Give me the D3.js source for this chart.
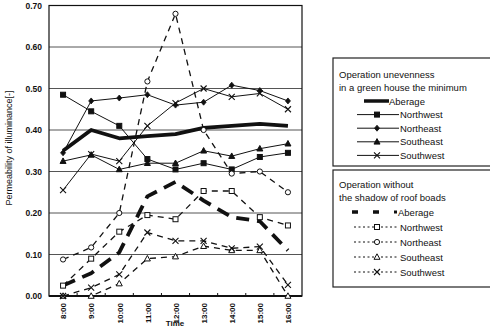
<!DOCTYPE html>
<html>
<head>
<meta charset="utf-8">
<script src="https://cdn.jsdelivr.net/npm/d3@7"></script>
<style>
  body { margin: 0; background: #fff; }
  text { font-family: "Liberation Sans", "DejaVu Sans", sans-serif; fill: #111; }
</style>
</head>
<body>
<div id="chartHolder"></div>
<script>
const times = ["8:00", "9:00", "10:00", "11:00", "12:00", "13:00", "14:00", "15:00", "16:00"];
const yTicks = [0, 0.1, 0.2, 0.3, 0.4, 0.5, 0.6, 0.7];

// operation unevenness in a green house the minimum (solid)
const minAverage   = [0.35, 0.40, 0.38, 0.385, 0.39, 0.405, 0.41, 0.415, 0.41];
const minNorthwest = [0.485, 0.445, 0.41, 0.33, 0.305, 0.32, 0.305, 0.335, 0.345];
const minNortheast = [0.345, 0.47, 0.477, 0.485, 0.46, 0.467, 0.508, 0.495, 0.47];
const minSoutheast = [0.325, 0.34, 0.305, 0.32, 0.32, 0.35, 0.337, 0.355, 0.367];
const minSouthwest = [0.255, 0.342, 0.325, 0.41, 0.465, 0.50, 0.48, 0.488, 0.45];

// operation without the shadow of roof boads (dashed)
const noAverage   = [0.025, 0.055, 0.105, 0.24, 0.275, 0.23, 0.19, 0.18, 0.11];
const noNorthwest = [0.025, 0.09, 0.155, 0.195, 0.185, 0.253, 0.253, 0.19, 0.17];
const noNortheast = [0.088, 0.117, 0.20, 0.517, 0.68, 0.40, 0.295, 0.30, 0.25];
const noSoutheast = [0.0, 0.0, 0.03, 0.09, 0.095, 0.12, 0.11, 0.11, 0.0];
const noSouthwest = [0.0, 0.02, 0.052, 0.153, 0.133, 0.133, 0.115, 0.119, 0.027];

const width = 490, height = 327;
const pLeft = 49, pRight = 302, pTop = 5.5, pBottom = 296;

const svg = d3.select("#chartHolder").append("svg")
  .attr("width", width).attr("height", height);

const xScale = d3.scalePoint().domain(times).range([pLeft, pRight]).padding(0.5);
const yScale = d3.scaleLinear().domain([0, 0.7]).range([pBottom, pTop]);

// grid
svg.append("g").selectAll("line").data(yTicks.slice(1, -1)).enter().append("line")
  .attr("x1", pLeft).attr("x2", pRight)
  .attr("y1", d => yScale(d)).attr("y2", d => yScale(d))
  .attr("stroke", "#555").attr("stroke-width", 1);

// y axis labels
const yAxis = d3.axisLeft(yScale).tickValues(yTicks).tickFormat(d3.format(".2f")).tickSize(0).tickPadding(7);
svg.append("g").attr("transform", `translate(${pLeft},0)`).call(yAxis)
  .call(g => g.select(".domain").remove())
  .selectAll("text").style("font-size", "8.5px").style("font-weight", "bold").attr("fill", "#222");

// x axis
const step = xScale.step();
const xAxis = d3.axisBottom(xScale).tickSize(0);
svg.append("g").attr("transform", `translate(0,${pBottom})`).call(xAxis)
  .call(g => g.select(".domain").remove())
  .selectAll("text")
  .style("font-size", "8px").style("font-weight", "bold").attr("fill", "#222")
  .attr("text-anchor", "end").attr("dy", "0.35em")
  .attr("transform", "translate(0,7) rotate(-90)").attr("x", 0).attr("y", 0);

// small inner ticks at band boundaries
svg.append("g").selectAll("line").data(d3.range(1, times.length)).enter().append("line")
  .attr("x1", i => pLeft + i * step).attr("x2", i => pLeft + i * step)
  .attr("y1", pBottom).attr("y2", pBottom - 3)
  .attr("stroke", "#111");

// frame
svg.append("rect").attr("x", pLeft).attr("y", pTop).attr("width", pRight - pLeft).attr("height", pBottom - pTop)
  .attr("fill", "none").attr("stroke", "#111").attr("stroke-width", 1.2);
svg.append("line").attr("x1", pLeft).attr("x2", pRight).attr("y1", pBottom).attr("y2", pBottom)
  .attr("stroke", "#111").attr("stroke-width", 2);

svg.append("text").attr("transform", "translate(12,148) rotate(-90)")
  .attr("text-anchor", "middle").style("font-size", "9px").text("Permeability of illuminance[-]");
svg.append("text").attr("x", 175).attr("y", 326).attr("text-anchor", "middle")
  .style("font-size", "8px").style("font-weight", "bold").text("Time");

// markers
function drawMarker(g, type, x, y, open) {
  const fill = open ? "#fff" : "#111";
  if (type === "square") {
    g.append("rect").attr("x", x - 2.5).attr("y", y - 2.5).attr("width", 5).attr("height", 5)
      .attr("fill", fill).attr("stroke", "#111").attr("stroke-width", 1);
  } else if (type === "diamond") {
    if (open) {
      g.append("circle").attr("cx", x).attr("cy", y).attr("r", 2.6)
        .attr("fill", fill).attr("stroke", "#111").attr("stroke-width", 1);
    } else {
      g.append("path").attr("d", `M${x},${y - 3}L${x + 2.5},${y}L${x},${y + 3}L${x - 2.5},${y}Z`)
        .attr("fill", fill).attr("stroke", "#111").attr("stroke-width", 0.8);
    }
  } else if (type === "triangle") {
    g.append("path").attr("d", `M${x},${y - 3.2}L${x + 3},${y + 2.3}L${x - 3},${y + 2.3}Z`)
      .attr("fill", fill).attr("stroke", "#111").attr("stroke-width", 1);
  } else if (type === "x") {
    g.append("path").attr("d", `M${x - 3},${y - 3}L${x + 3},${y + 3}M${x + 3},${y - 3}L${x - 3},${y + 3}`)
      .attr("stroke", "#111").attr("stroke-width", 1.1);
  }
}

const series = [
  { values: minNorthwest, marker: "square", dash: null, w: 1, open: false },
  { values: minNortheast, marker: "diamond", dash: null, w: 1, open: false },
  { values: minSoutheast, marker: "triangle", dash: null, w: 1, open: false },
  { values: minSouthwest, marker: "x", dash: null, w: 1, open: false },
  { values: minAverage, marker: null, dash: null, w: 3.8, open: false },
  { values: noNorthwest, marker: "square", dash: "6,5", w: 1.3, open: true },
  { values: noNortheast, marker: "diamond", dash: "6,5", w: 1.3, open: true },
  { values: noSoutheast, marker: "triangle", dash: "6,5", w: 1.3, open: true },
  { values: noSouthwest, marker: "x", dash: "6,5", w: 1.3, open: true },
  { values: noAverage, marker: null, dash: "13,8", w: 3.8, open: false }
];

const line = d3.line().x((d, i) => xScale(times[i])).y(d => yScale(d));

series.forEach(s => {
  svg.append("path").datum(s.values).attr("d", line)
    .attr("fill", "none").attr("stroke", "#111").attr("stroke-width", s.w)
    .attr("stroke-dasharray", s.dash).attr("stroke-linejoin", "round");
});
series.forEach(s => {
  if (!s.marker) return;
  const g = svg.append("g");
  s.values.forEach((v, i) => drawMarker(g, s.marker, xScale(times[i]), yScale(v), s.open));
});

// legends
const names = ["Aberage", "Northwest", "Northeast", "Southeast", "Southwest"];
const markers = [null, "square", "diamond", "triangle", "x"];

function legendBox(y0, y1, titles, rowY, dashed) {
  svg.append("rect").attr("x", 333).attr("y", y0).attr("width", 170).attr("height", y1 - y0)
    .attr("fill", "#fff").attr("stroke", "#222").attr("stroke-width", 1.2);
  titles.forEach((t, i) => svg.append("text").attr("x", 339).attr("y", rowY[0] + i * 13.3)
    .style("font-size", "9.5px").text(t));
  names.forEach((n, i) => {
    const y = rowY[1] + i * (dashed ? 15 : 13.6);
    const g = svg.append("g");
    if (i === 0) {
      if (dashed) {
        g.append("line").attr("x1", 352).attr("x2", 394).attr("y1", y).attr("y2", y)
          .attr("stroke", "#111").attr("stroke-width", 3.5).attr("stroke-dasharray", "6,15");
        g.append("rect").attr("x", 394).attr("y", y - 1.5).attr("width", 3).attr("height", 3).attr("fill", "#111");
      } else {
        g.append("line").attr("x1", 364).attr("x2", 389).attr("y1", y).attr("y2", y)
          .attr("stroke", "#111").attr("stroke-width", 3.5);
      }
      g.append("text").attr("x", dashed ? 398 : 389).attr("y", y + 3.5).style("font-size", "9.5px").text(n);
    } else {
      g.append("line").attr("x1", dashed ? 354 : 357).attr("x2", 399).attr("y1", y).attr("y2", y)
        .attr("stroke", "#111").attr("stroke-width", 1).attr("stroke-dasharray", dashed ? "2,2.5" : null);
      drawMarker(g, markers[i], 377, y, dashed);
      g.append("text").attr("x", 400).attr("y", y + 3.5).style("font-size", "9.5px").text(n);
    }
  });
}

legendBox(58, 166, ["Operation unevenness", "in a green house the minimum"], [78, 101], false);
legendBox(170, 287, ["Operation without", "the shadow of roof boads"], [188, 212], true);
</script>
</body>
</html>
